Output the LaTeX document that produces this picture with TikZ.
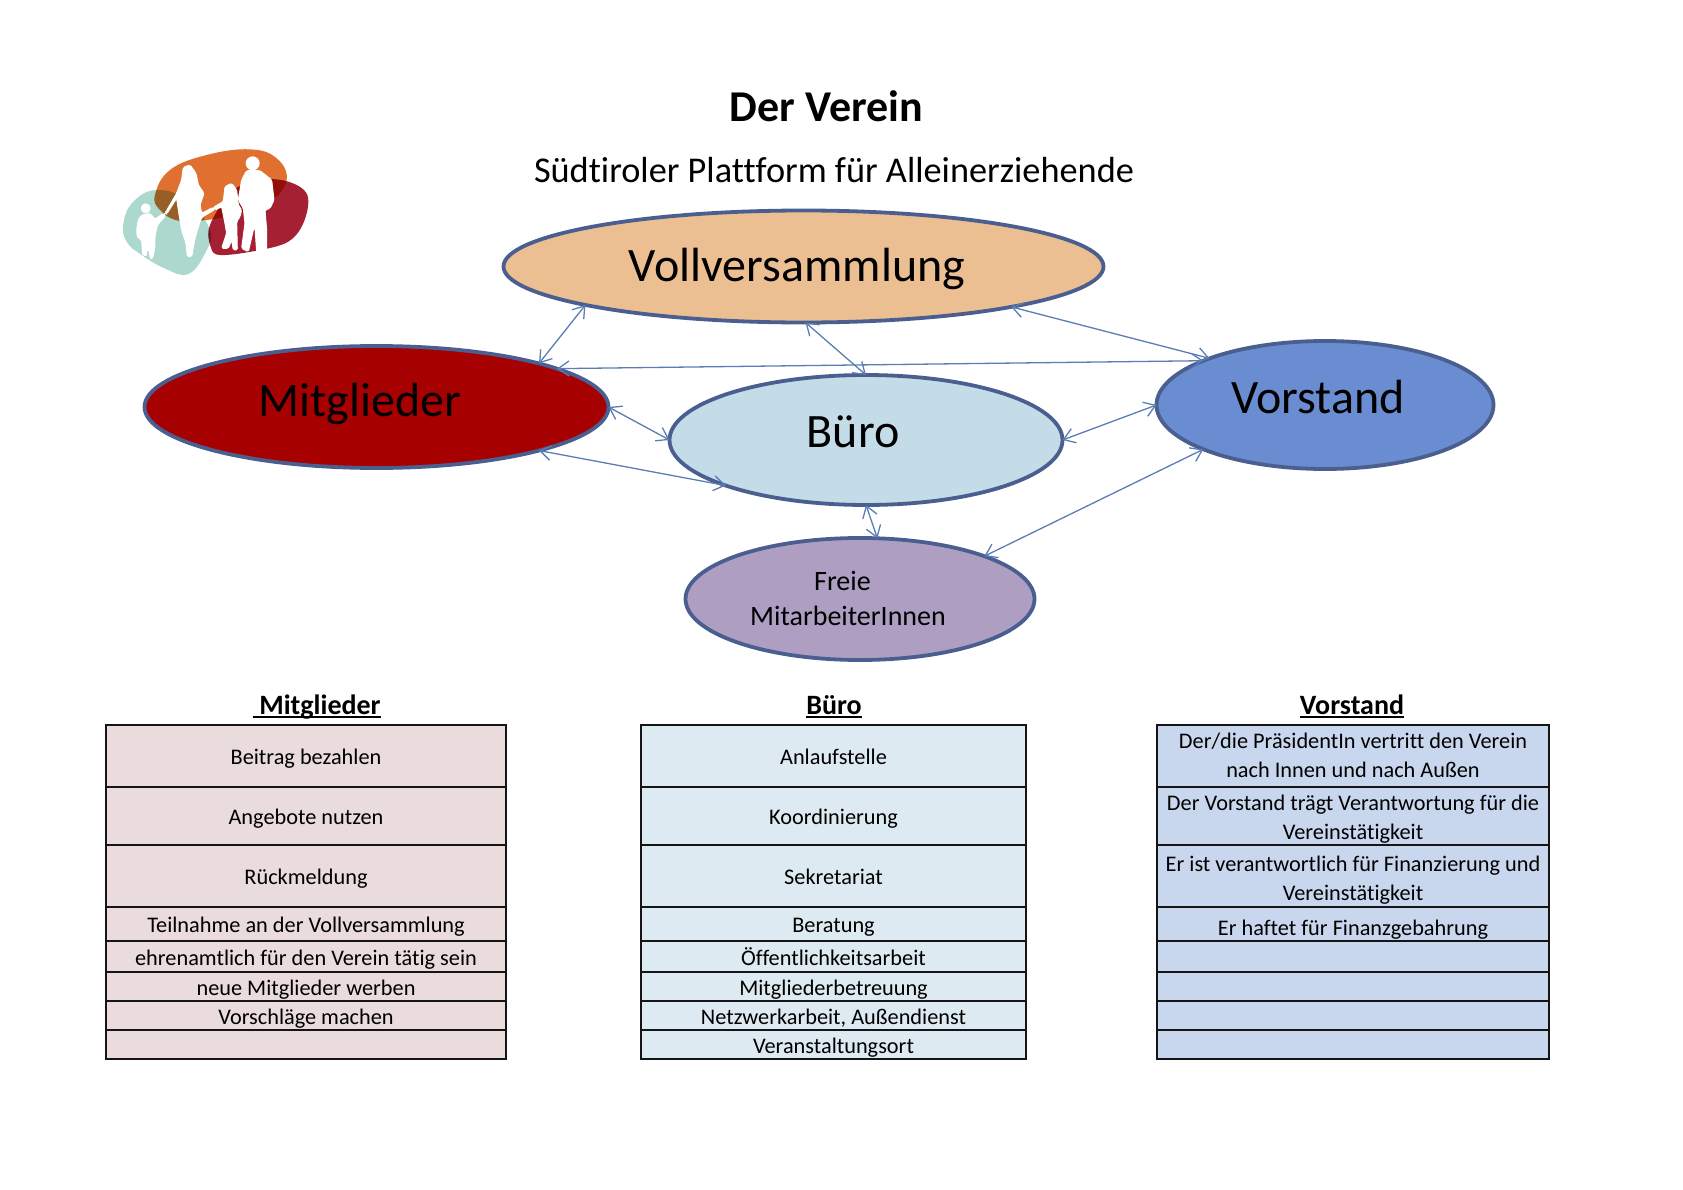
\documentclass[tikz,border=0pt]{standalone}
\usepackage{fontspec}
\setmainfont[Ligatures=CommonOff]{Carlito}
\usetikzlibrary{shapes.geometric,arrows.meta}
\definecolor{edgeblue}{HTML}{4A5F8F}
\definecolor{linkblue}{HTML}{5B7DB5}
\definecolor{pinkcell}{HTML}{EADBDC}
\definecolor{lightcell}{HTML}{DEEAF1}
\definecolor{bluecell}{HTML}{C9D7EE}
\definecolor{cellline}{HTML}{151515}
\tikzset{
  blob/.style={ellipse,draw=edgeblue,line width=3.8pt,inner sep=0pt,outer sep=0pt},
  bigtext/.style={font=\fontsize{48}{54}\selectfont,inner sep=0pt,text=black},
  link/.style={draw=linkblue,line width=1.3pt,{Straight Barb[length=11pt,width=15pt,line width=1.3pt]}-{Straight Barb[length=11pt,width=15pt,line width=1.3pt]},shorten <=0pt,shorten >=0pt},
  cellbox/.style={rectangle,draw=cellline,line width=2.1pt,anchor=north west,inner sep=0pt,outer sep=0pt,align=center,font=\fontsize{22.3}{29}\selectfont},
  head/.style={font=\bfseries\fontsize{28}{32}\selectfont,inner sep=0pt,anchor=base},
  person/.style={fill=white,draw=white,line width=1pt,rounded corners=1.5pt},
}
\newcommand{\tcell}[7]{\node[cellbox,fill=#3,minimum width=#5pt,minimum height=#7pt] (#1) at (#4,#6) {#2};}
\newsavebox{\ulbox}
\newcommand{\ul}[1]{\sbox{\ulbox}{#1}\rlap{\rule[-4.2pt]{\wd\ulbox}{1.8pt}}\usebox{\ulbox}}
\newcommand{\cs}{\rule[-4pt]{0pt}{25pt}}
\begin{document}
\begin{tikzpicture}[x=1pt,y=-1pt]
\useasboundingbox (0,0) rectangle (1683,1190);
\fill[white] (0,0) rectangle (1683,1190);

\node[font=\bfseries\fontsize{44}{50}\selectfont,inner sep=0pt] (title) at (826.5,106.5) {Der Verein};
\node[font=\fontsize{36.3}{42}\selectfont,inner sep=0pt] (subtitle) at (834,170.5) {Südtiroler Plattform für Alleinerziehende};

% logo
\begin{scope}[shift={(100pt,-130pt)},x=0.3333pt,y=-0.3333pt]
  \begin{scope}[blend group=multiply]
  \fill[color={rgb,255:red,172;green,216;blue,206}] plot[smooth cycle,tension=0.7] coordinates {(70,280) (100,215) (170,180) (260,210) (330,300) (315,370) (265,432) (200,418) (125,375) (80,335)};
  \fill[color={rgb,255:red,224;green,112;blue,47}] plot[smooth cycle,tension=0.7] coordinates {(165,195) (210,120) (320,75) (450,58) (530,85) (560,150) (510,215) (420,250) (320,270) (235,272) (180,240)};
  \fill[color={rgb,255:red,166;green,32;blue,52}] plot[smooth cycle,tension=0.6] coordinates {(330,285) (395,185) (480,150) (565,155) (622,195) (612,275) (565,335) (470,362) (360,375) (332,350)};
  \end{scope}
  % child
  \fill[white] (137,235) circle (15);
  \path[person] (125,255)--(150,250)--(165,268)--(190,250)--(196,258)--(172,285)--(165,320)--(165,350)--(158,385)--(150,385)--(148,360)--(140,360)--(140,378)--(128,375)--(125,330)--(112,322)--(110,300)--(115,270)--cycle;
  % woman
  \path[person] (195,250)--(230,190)--(245,150)--(250,112)--(270,105)--(288,130)--(295,165)--(312,190)--(300,225)--(305,250)--(340,232)--(345,238)--(305,262)--(297,285)--(285,325)--(275,380)--(262,380)--(258,340)--(245,300)--(235,240)--(230,205)--(200,252)--cycle;
  % girl
  \path[person] (340,232)--(370,215)--(375,170)--(395,160)--(410,180)--(415,225)--(425,240)--(420,260)--(410,275)--(412,360)--(400,360)--(395,330)--(385,355)--(365,355)--(380,310)--(375,280)--(365,230)--(345,240)--cycle;
  % man
  \fill[white] (458,100) circle (21);
  \path[person] (440,122)--(480,122)--(515,150)--(522,210)--(510,235)--(495,240)--(500,300)--(500,360)--(470,365)--(465,290)--(460,300)--(445,365)--(425,355)--(435,280)--(430,235)--(415,210)--(425,150)--cycle;
\end{scope}

% ellipses
\node[blob,fill={rgb,255:red,235;green,191;blue,146},minimum width=600pt,minimum height=112pt] (voll) at (803.5,266.5) {};
\node[blob,fill={rgb,255:red,166;green,0;blue,0},minimum width=464pt,minimum height=122pt] (mitg) at (376.5,407) {};
\node[blob,fill={rgb,255:red,195;green,220;blue,232},minimum width=393pt,minimum height=130pt] (buero) at (866,440) {};
\node[blob,fill={rgb,255:red,106;green,140;blue,208},minimum width=337pt,minimum height=128pt] (vorst) at (1325,405) {};
\node[blob,fill={rgb,255:red,174;green,158;blue,194},minimum width=349pt,minimum height=122pt] (freie) at (860,599) {};

\node[bigtext] (lvoll) at (797,269) {Vollversammlung};
\node[bigtext] (lmitg) at (360,404) {Mitglieder};
\node[bigtext] (lbuero) at (853,432) {Büro};
\node[bigtext] (lvorst) at (1318,397) {Vorstand};
\node[align=center,inner sep=0pt,font=\fontsize{28}{35.5}\selectfont] (lfreie) at (848,598.5) {Freie\hspace*{11pt}\\MitarbeiterInnen};

% connectors
\draw[link] (voll.-170.05) -- (mitg.15.6);
\draw[link] (voll.349.9) -- (vorst.158);
\draw[link] (voll.272) -- (buero.90);
\draw[link] (mitg.12.05) -- (vorst.160);
\draw[link] (mitg.0) -- (buero.180);
\draw[link] (mitg.-15.5) -- (buero.198.5);
\draw[link] (buero.270) -- (freie.74.4);
\draw[link] (buero.0) -- (vorst.180);
\draw[link] (vorst.200.8) -- (freie.19.5);

% tables
\node[head] (h1) at (317,714) {\ul{\hspace*{6pt}Mitglieder}};
\node[head] (h2) at (834,714) {\ul{Büro}};
\node[head] (h3) at (1352,714) {\ul{Vorstand}};

\tcell{a1}{\cs Beitrag bezahlen}{pinkcell}{106}{400}{725}{62}
\tcell{a2}{\cs Angebote nutzen}{pinkcell}{106}{400}{787}{58}
\tcell{a3}{\cs Rückmeldung}{pinkcell}{106}{400}{845}{62}
\tcell{a4}{\cs Teilnahme an der Vollversammlung}{pinkcell}{106}{400}{907}{34}
\tcell{a5}{\cs ehrenamtlich für den Verein tätig sein}{pinkcell}{106}{400}{941}{31}
\tcell{a6}{\cs neue Mitglieder werben}{pinkcell}{106}{400}{972}{29}
\tcell{a7}{\cs Vorschläge machen}{pinkcell}{106}{400}{1001}{29}
\tcell{a8}{}{pinkcell}{106}{400}{1030}{29}

\tcell{b1}{\cs Anlaufstelle}{lightcell}{641}{385}{725}{62}
\tcell{b2}{\cs Koordinierung}{lightcell}{641}{385}{787}{58}
\tcell{b3}{\cs Sekretariat}{lightcell}{641}{385}{845}{62}
\tcell{b4}{\cs Beratung}{lightcell}{641}{385}{907}{34}
\tcell{b5}{\cs Öffentlichkeitsarbeit}{lightcell}{641}{385}{941}{31}
\tcell{b6}{\cs Mitgliederbetreuung}{lightcell}{641}{385}{972}{29}
\tcell{b7}{\cs Netzwerkarbeit, Außendienst}{lightcell}{641}{385}{1001}{29}
\tcell{b8}{\cs Veranstaltungsort}{lightcell}{641}{385}{1030}{29}

\tcell{c1}{\cs\raisebox{1.5pt}[0pt][0pt]{Der/die PräsidentIn vertritt den Verein}\\\cs\raisebox{1.5pt}[0pt][0pt]{nach Innen und nach Außen}}{bluecell}{1157}{392}{725}{62}
\tcell{c2}{\cs Der Vorstand trägt Verantwortung für die\\\cs Vereinstätigkeit}{bluecell}{1157}{392}{787}{58}
\tcell{c3}{\cs\raisebox{-1pt}[0pt][0pt]{Er ist verantwortlich für Finanzierung und}\\\cs\raisebox{-1pt}[0pt][0pt]{Vereinstätigkeit}}{bluecell}{1157}{392}{845}{62}
\tcell{c4}{\cs\raisebox{-3pt}[0pt][0pt]{Er haftet für Finanzgebahrung}}{bluecell}{1157}{392}{907}{34}
\tcell{c5}{}{bluecell}{1157}{392}{941}{31}
\tcell{c6}{}{bluecell}{1157}{392}{972}{29}
\tcell{c7}{}{bluecell}{1157}{392}{1001}{29}
\tcell{c8}{}{bluecell}{1157}{392}{1030}{29}
\end{tikzpicture}
\end{document}
